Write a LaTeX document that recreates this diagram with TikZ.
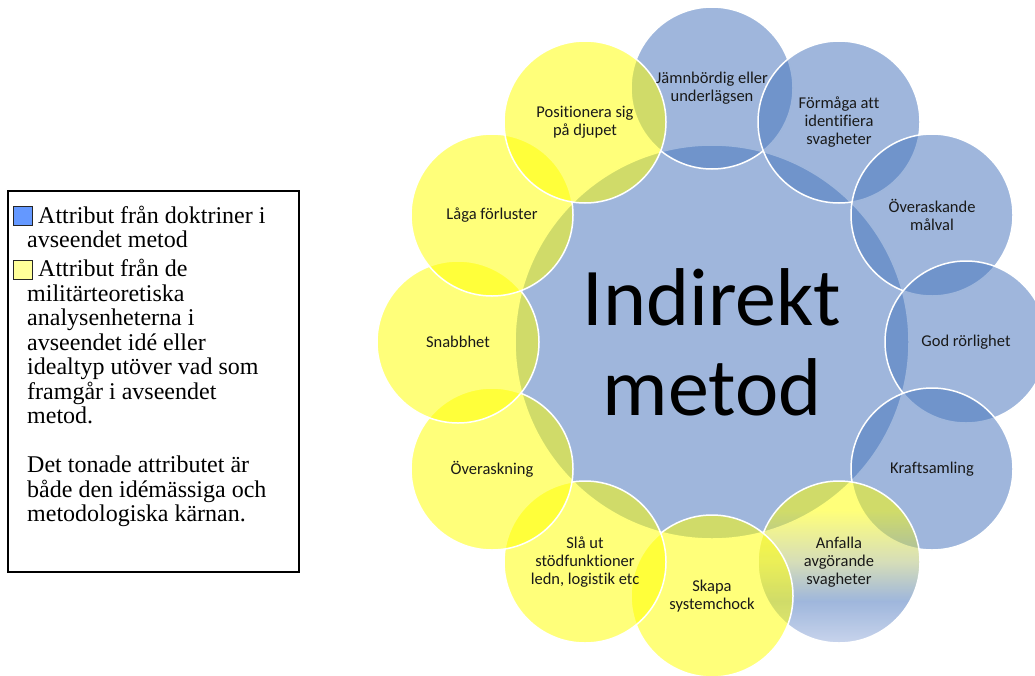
\documentclass[tikz,border=0pt]{standalone}
\usepackage{fontspec}
\setmainfont{Liberation Serif}
\newfontfamily\calib[Ligatures={NoCommon}]{Carlito}
\definecolor{ob}{RGB}{70,116,188}
\definecolor{yl}{RGB}{255,255,0}
\definecolor{lb}{RGB}{150,172,218}
\definecolor{mixc}{RGB}{175,190,120}
\definecolor{legblue}{RGB}{100,152,255}
\definecolor{legyel}{RGB}{255,255,153}
\definecolor{lbltxt}{RGB}{25,25,25}
\pgfdeclareverticalshading{anfshade}{100bp}{color(0bp)=(lb); color(25bp)=(lb); color(38bp)=(ob); color(50bp)=(mixc); color(66bp)=(yl); color(100bp)=(yl)}
\tikzset{
  bub/.style={circle, minimum size=162pt, inner sep=0pt, draw=white, line width=1.5pt,
    fill opacity=0.52},
  bbub/.style={bub, fill=ob},
  ybub/.style={bub, fill=yl},
  lbl/.style={align=center, inner sep=0pt, text=lbltxt, font=\calib\fontsize{16.5}{18}\selectfont},
  legtxt/.style={anchor=base west, inner sep=0pt, font=\fontsize{24}{24.5}\selectfont},
  legsq/.style={draw=black!85, line width=1pt, minimum size=19pt, inner sep=0pt, anchor=south west}
}
\begin{document}
\begin{tikzpicture}[x=1pt,y=-1pt]
\useasboundingbox (0,0) rectangle (1035,675);
% legend
\node[draw=black, line width=1.5pt, minimum width=291pt, minimum height=381pt, inner sep=0pt, anchor=north west] (legend) at (7,190) {};
\node[legsq, fill=legblue] (sqb) at (12.5,226) {};
\node[legtxt] (l1) at (38,223) {Attribut från doktriner i};
\node[legtxt] (l2) at (27,247.5) {avseendet metod};
\node[legsq, fill=legyel] (sqy) at (12.5,280) {};
\node[legtxt] (l3) at (38,276.5) {Attribut från de};
\node[legtxt] (l4) at (27,301) {militärteoretiska};
\node[legtxt] (l5) at (27,325.5) {analysenheterna i};
\node[legtxt] (l6) at (27,350) {avseendet idé eller};
\node[legtxt] (l7) at (27,374.5) {idealtyp utöver vad som};
\node[legtxt] (l8) at (27,399) {framgår i avseendet};
\node[legtxt] (l9) at (27,423.5) {metod.};
\node[legtxt] (l10) at (27,472.5) {Det tonade attributet är};
\node[legtxt] (l11) at (27,497) {både den idémässiga och};
\node[legtxt] (l12) at (27,521.5) {metodologiska kärnan.};
% centre
\node[bbub, minimum size=394pt] (center) at (712,342) {};
% ring
\node[bbub] (c1) at (712,88) {};
\node[bbub] (c2) at (839,122) {};
\node[bbub] (c3) at (932,215) {};
\node[bbub] (c4) at (966,342) {};
\node[bbub] (c5) at (932,469) {};
\node[bub, shading=anfshade] (c6) at (839,562) {};
\node[ybub] (c7) at (712,596) {};
\node[ybub] (c8) at (585,562) {};
\node[ybub] (c9) at (492,469) {};
\node[ybub] (c10) at (458,342) {};
\node[ybub] (c11) at (492,215) {};
\node[ybub] (c12) at (585,122) {};
% labels
\node[lbl, text=black, font=\calib\fontsize{82}{90}\selectfont] (tc) at (center) {Indirekt\\metod};
\node[lbl] (t1) at (c1) {Jämnbördig eller\\underlägsen};
\node[lbl] (t2) at (c2) {Förmåga att\\identifiera\\svagheter};
\node[lbl] (t3) at (c3) {Överaskande\\målval};
\node[lbl] (t4) at (c4) {God rörlighet};
\node[lbl] (t5) at (c5) {Kraftsamling};
\node[lbl] (t6) at (c6) {Anfalla\\avgörande\\svagheter};
\node[lbl] (t7) at (c7) {Skapa\\systemchock};
\node[lbl] (t8) at (c8) {Slå ut\\stödfunktioner\\ledn, logistik etc};
\node[lbl] (t9) at (c9) {Överaskning};
\node[lbl] (t10) at (c10) {Snabbhet};
\node[lbl] (t11) at (c11) {Låga förluster};
\node[lbl] (t12) at (c12) {Positionera sig\\på djupet};
\end{tikzpicture}
\end{document}
